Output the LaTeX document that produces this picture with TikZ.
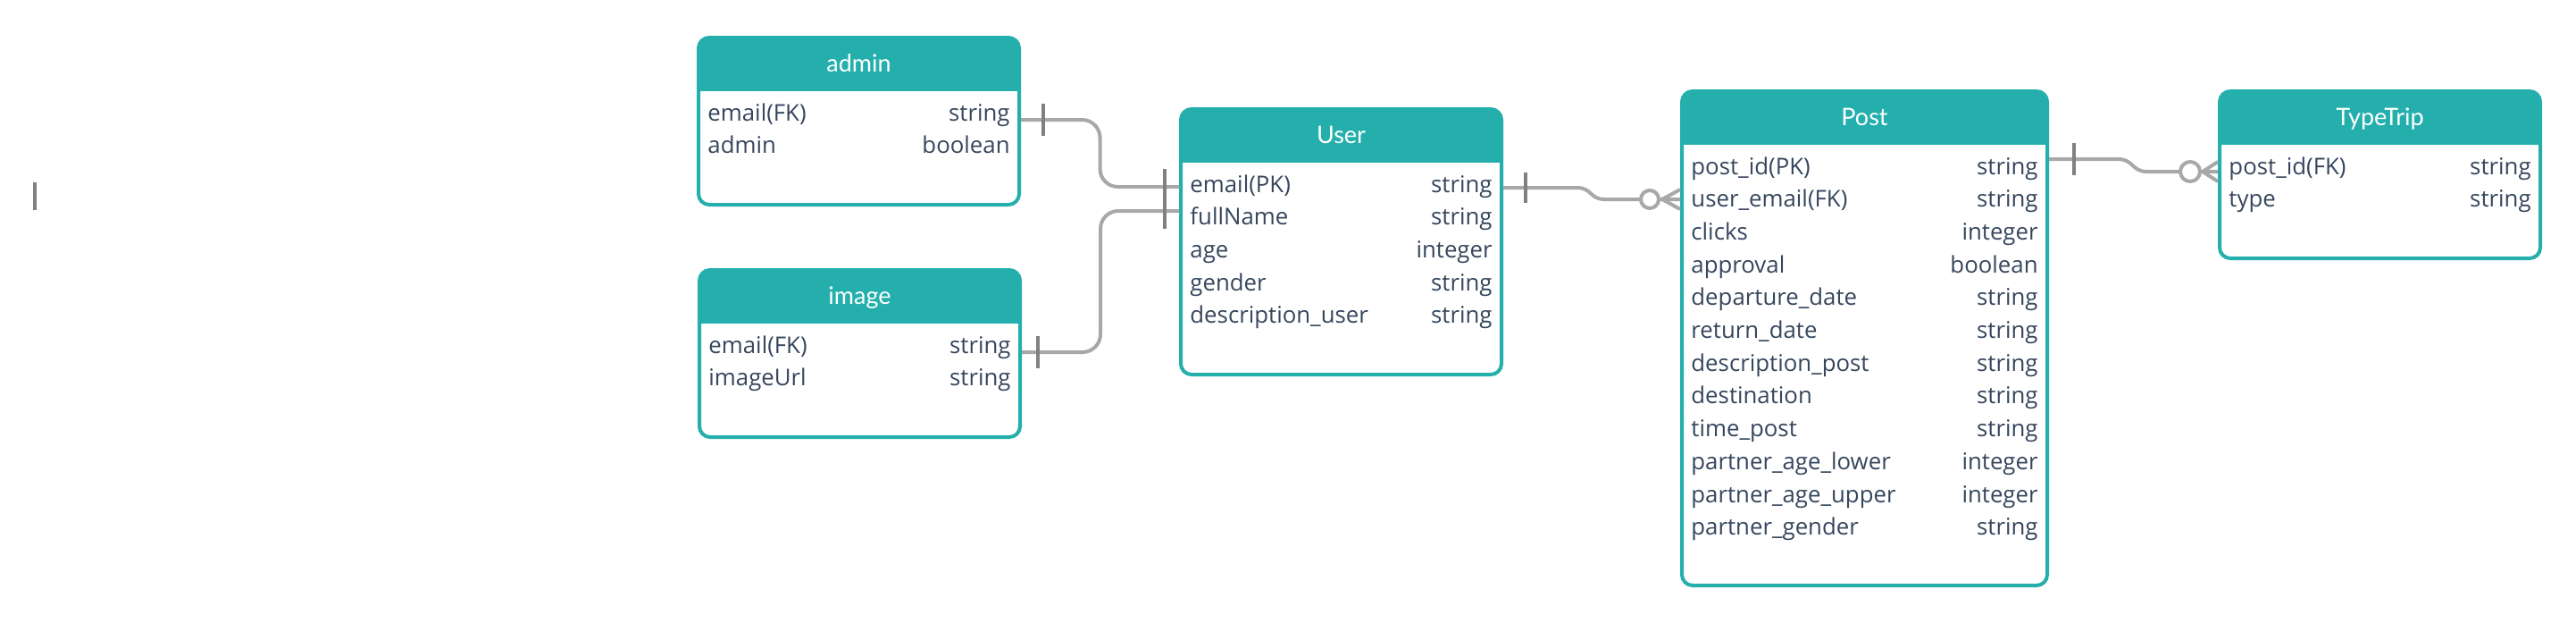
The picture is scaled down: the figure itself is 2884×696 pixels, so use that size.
\documentclass[tikz,border=0pt]{standalone}
\usepackage{fontspec}
\setmainfont{Lato}
\newfontfamily\fieldfont{Open Sans}
\usepackage{xcolor}
\usepackage{tikz}
\usetikzlibrary{calc,positioning}
\definecolor{hdrteal}{HTML}{24AFAD}
\definecolor{rowtext}{HTML}{36465D}
\definecolor{linkgray}{HTML}{A8A8A8}
\definecolor{tickgray}{HTML}{808080}
\tikzset{
  entity/.style={draw=hdrteal, line width=2pt, rounded corners=6pt, fill=white,
    anchor=north west, inner sep=0pt, minimum width=179.5pt,
    path picture={\fill[hdrteal, sharp corners] (path picture bounding box.north west)
      rectangle ([yshift=-30pt]path picture bounding box.north east);}},
  etitle/.style={anchor=base, text=white, inner sep=0pt, font=\fontsize{13.5pt}{16pt}\selectfont},
  fieldname/.style={anchor=base west, text=rowtext, inner sep=0pt, font=\fieldfont\fontsize{12.9pt}{15pt}\selectfont},
  fieldtype/.style={anchor=base east, text=rowtext, inner sep=0pt, font=\fieldfont\fontsize{12.9pt}{15pt}\selectfont},
  link/.style={draw=linkgray, line width=2pt},
  onetick/.style={draw=tickgray, line width=2pt}
}

\begin{document}
\begin{tikzpicture}[x=0.5pt,y=-0.5pt]
		\fill[white] (0,0) rectangle (2884,696);
		\useasboundingbox (0,0) rectangle (2884,696);
		% tables
		\node[entity, minimum height=93.5pt] (admin) at (780,40) {};
		\node[etitle] (admin-title) at ($(admin.north)+(0,40)$) {admin};
		\foreach \fn/\ft [count=\i] in {email(FK)/string, admin/boolean}{
			\node[fieldname] (admin-n\i) at ($(admin.north west)+(12,58.3+36.7*\i)$) {\fn};
			\node[fieldtype] (admin-t\i) at ($(admin.north east)+(-12,58.3+36.7*\i)$) {\ft};
		}
		\node[entity, minimum height=93.5pt] (image) at (781,300) {};
		\node[etitle] (image-title) at ($(image.north)+(0,40)$) {image};
		\foreach \fn/\ft [count=\i] in {email(FK)/string, imageUrl/string}{
			\node[fieldname] (image-n\i) at ($(image.north west)+(12,58.3+36.7*\i)$) {\fn};
			\node[fieldtype] (image-t\i) at ($(image.north east)+(-12,58.3+36.7*\i)$) {\ft};
		}
		\node[entity, minimum height=148.5pt] (user) at (1320,120) {};
		\node[etitle] (user-title) at ($(user.north)+(0,40)$) {User};
		\foreach \fn/\ft [count=\i] in {email(PK)/string, fullName/string, age/integer,
			gender/string, description\_user/string}{
			\node[fieldname] (user-n\i) at ($(user.north west)+(12,58.3+36.7*\i)$) {\fn};
			\node[fieldtype] (user-t\i) at ($(user.north east)+(-12,58.3+36.7*\i)$) {\ft};
		}
		\node[entity, minimum width=204.5pt, minimum height=276.5pt] (post) at (1881,100) {};
		\node[etitle] (post-title) at ($(post.north)+(0,40)$) {Post};
		\foreach \fn/\ft [count=\i] in {post\_id(PK)/string, user\_email(FK)/string, clicks/integer,
			approval/boolean, departure\_date/string, return\_date/string, description\_post/string,
			destination/string, time\_post/string, partner\_age\_lower/integer,
			partner\_age\_upper/integer, partner\_gender/string}{
			\node[fieldname] (post-n\i) at ($(post.north west)+(12,58.3+36.7*\i)$) {\fn};
			\node[fieldtype] (post-t\i) at ($(post.north east)+(-12,58.3+36.7*\i)$) {\ft};
		}
		\node[entity, minimum height=93.5pt] (trip) at (2483,100) {};
		\node[etitle] (trip-title) at ($(trip.north)+(0,40)$) {TypeTrip};
		\foreach \fn/\ft [count=\i] in {post\_id(FK)/string, type/string}{
			\node[fieldname] (trip-n\i) at ($(trip.north west)+(12,58.3+36.7*\i)$) {\fn};
			\node[fieldtype] (trip-t\i) at ($(trip.north east)+(-12,58.3+36.7*\i)$) {\ft};
		}
		% links
		\coordinate (admin-out) at ($(admin.north east)+(0,94)$);
		\coordinate (image-out) at ($(image.north east)+(0,94)$);
		\coordinate (user-in1) at ($(user.north west)+(0,89)$);
		\coordinate (user-in2) at ($(user.north west)+(0,116)$);
		\coordinate (user-out) at ($(user.north east)+(0,90)$);
		\coordinate (post-in) at ($(post.north west)+(0,123)$);
		\coordinate (post-out) at ($(post.north east)+(0,78)$);
		\coordinate (trip-in) at ($(trip.north west)+(0,92)$);
		\draw[link, rounded corners=10pt] (admin-out) -| ($(admin-out)!0.5!(user-in1)$) |- (user-in1);
		\draw[link, rounded corners=10pt] (image-out) -| ($(image-out)!0.5!(user-in2)$) |- (user-in2);
		\draw[link] (user-out) -- ++(82,0) .. controls +(18,0) and +(-18,0) .. ($(post-in)+(-84,0)$) -- (post-in);
		\draw[link] (post-out) -- ++(77,0) .. controls +(18,0) and +(-18,0) .. ($(trip-in)+(-79,0)$) -- (trip-in);
		% one
		\draw[onetick] ($(admin-out)+(25,-18)$) -- ($(admin-out)+(25,18)$);
		\draw[onetick] ($(image-out)+(18,-18)$) -- ($(image-out)+(18,18)$);
		\draw[onetick] ($(user-in1)+(-16,-20)$) -- ($(user-in1)+(-16,20)$);
		\draw[onetick] ($(user-in2)+(-16,-20)$) -- ($(user-in2)+(-16,20)$);
		\draw[onetick] ($(user-out)+(25,-17)$) -- ($(user-out)+(25,17)$);
		\draw[onetick] ($(post-out)+(28,-18)$) -- ($(post-out)+(28,18)$);
		\draw[onetick] (39,204) -- (39,235);
		% zero or many
		\draw[link] ($(post-in)+(-20,0)$) -- ($(post-in)+(0,-11)$);
		\draw[link] ($(post-in)+(-20,0)$) -- ($(post-in)+(0,11)$);
		\draw[link, fill=white] ($(post-in)+(-34,0)$) circle (5pt);
		\draw[link] ($(trip-in)+(-17,0)$) -- ($(trip-in)+(0,-11)$);
		\draw[link] ($(trip-in)+(-17,0)$) -- ($(trip-in)+(0,11)$);
		\draw[link, fill=white] ($(trip-in)+(-31,0)$) circle (5.5pt);
	\end{tikzpicture}
\end{document}
